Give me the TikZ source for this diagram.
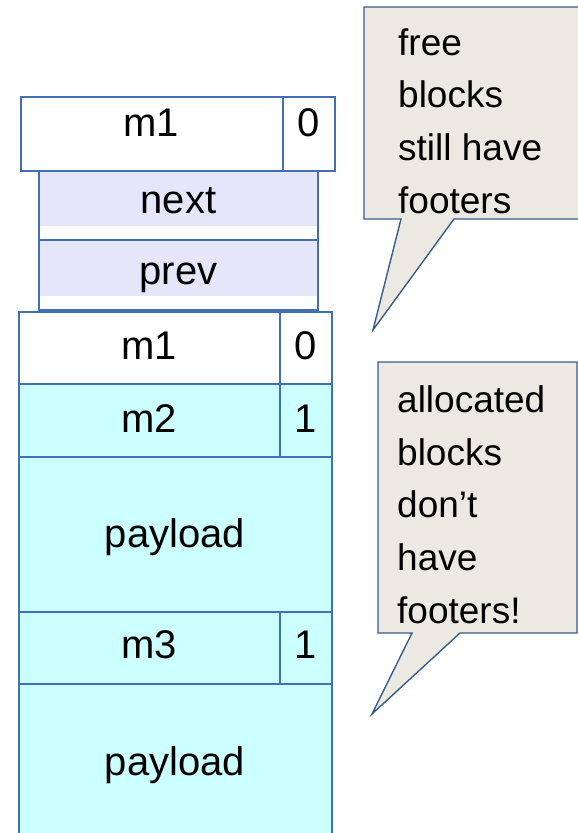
\documentclass[tikz,border=0pt]{standalone}
\usepackage{fontspec}
\setmainfont{Liberation Sans}
\definecolor{celledge}{HTML}{4170B5}
\definecolor{calledge}{HTML}{385D8A}
\definecolor{callfill}{HTML}{EBE9E1}
\definecolor{alloc}{HTML}{CCFFFF}
\definecolor{freelink}{HTML}{E6E6FA}
\begin{document}
\begin{tikzpicture}[x=1pt,y=-1pt,
  cell/.style={draw=celledge,line width=1.8pt},
  callout/.style={draw=calledge,fill=callfill,line width=1.4pt,line join=miter},
  celltext/.style={font=\fontsize{40}{46}\selectfont,inner sep=0pt,anchor=base},
  calltext/.style={font=\fontsize{37}{52.6}\selectfont,inner sep=0pt,align=left,anchor=base west}]
\useasboundingbox (0,0) rectangle (578,833);
\clip (0,0) rectangle (578,833);

% free block: header word, then next/prev links
\path[cell,fill=white] (21,97) rectangle (335,171);
\draw[cell] (283,97) -- (283,171);
\node[celltext] (fh) at (151,136) {m1};
\node[celltext] (fa) at (309,136) {0};

\fill[freelink] (39,171) rectangle (318,226);
\fill[freelink] (39,240) rectangle (318,296);
\draw[cell] (39,171) rectangle (318,310);
\draw[cell] (39,240) -- (318,240);
\node[celltext] (nx) at (178.5,213) {next};
\node[celltext] (pv) at (178.5,284) {prev};

% footer of the free block
\path[cell,fill=white] (19,312) rectangle (332,384);
\draw[cell] (280,312) -- (280,384);
\node[celltext] (ff) at (149,359) {m1};
\node[celltext] (fb) at (306,359) {0};

% first allocated block
\path[cell,fill=alloc] (19,384) rectangle (332,457);
\draw[cell] (280,384) -- (280,457);
\node[celltext] (h2) at (149,432) {m2};
\node[celltext] (a2) at (306,432) {1};
\path[cell,fill=alloc] (19,457) rectangle (332,612);
\node[celltext] (p2) at (175,547) {payload};

% second allocated block
\path[cell,fill=alloc] (19,612) rectangle (332,684);
\draw[cell] (280,612) -- (280,684);
\node[celltext] (h3) at (149,658) {m3};
\node[celltext] (a3) at (306,658) {1};
\path[cell,fill=alloc] (19,684) rectangle (332,860);
\node[celltext] (p3) at (175,775) {payload};

% callouts (text anchored at the baseline of its last line)
\coordinate (t1) at (373,330);
\path[callout] (364,7) -- (590,7) -- (590,219) -- (454,219) -- (t1) -- (401,219) -- (364,219) -- cycle;
\node[calltext] (c1) at (398,213) {free\\blocks\\still have\\footers};

\coordinate (t2) at (372,714);
\path[callout] (378,362) -- (577,362) -- (577,633) -- (460,633) -- (t2) -- (412,633) -- (378,633) -- cycle;
\node[calltext] (c2) at (397,623) {allocated\\blocks\\don’t\\have\\footers!};
\end{tikzpicture}
\end{document}
